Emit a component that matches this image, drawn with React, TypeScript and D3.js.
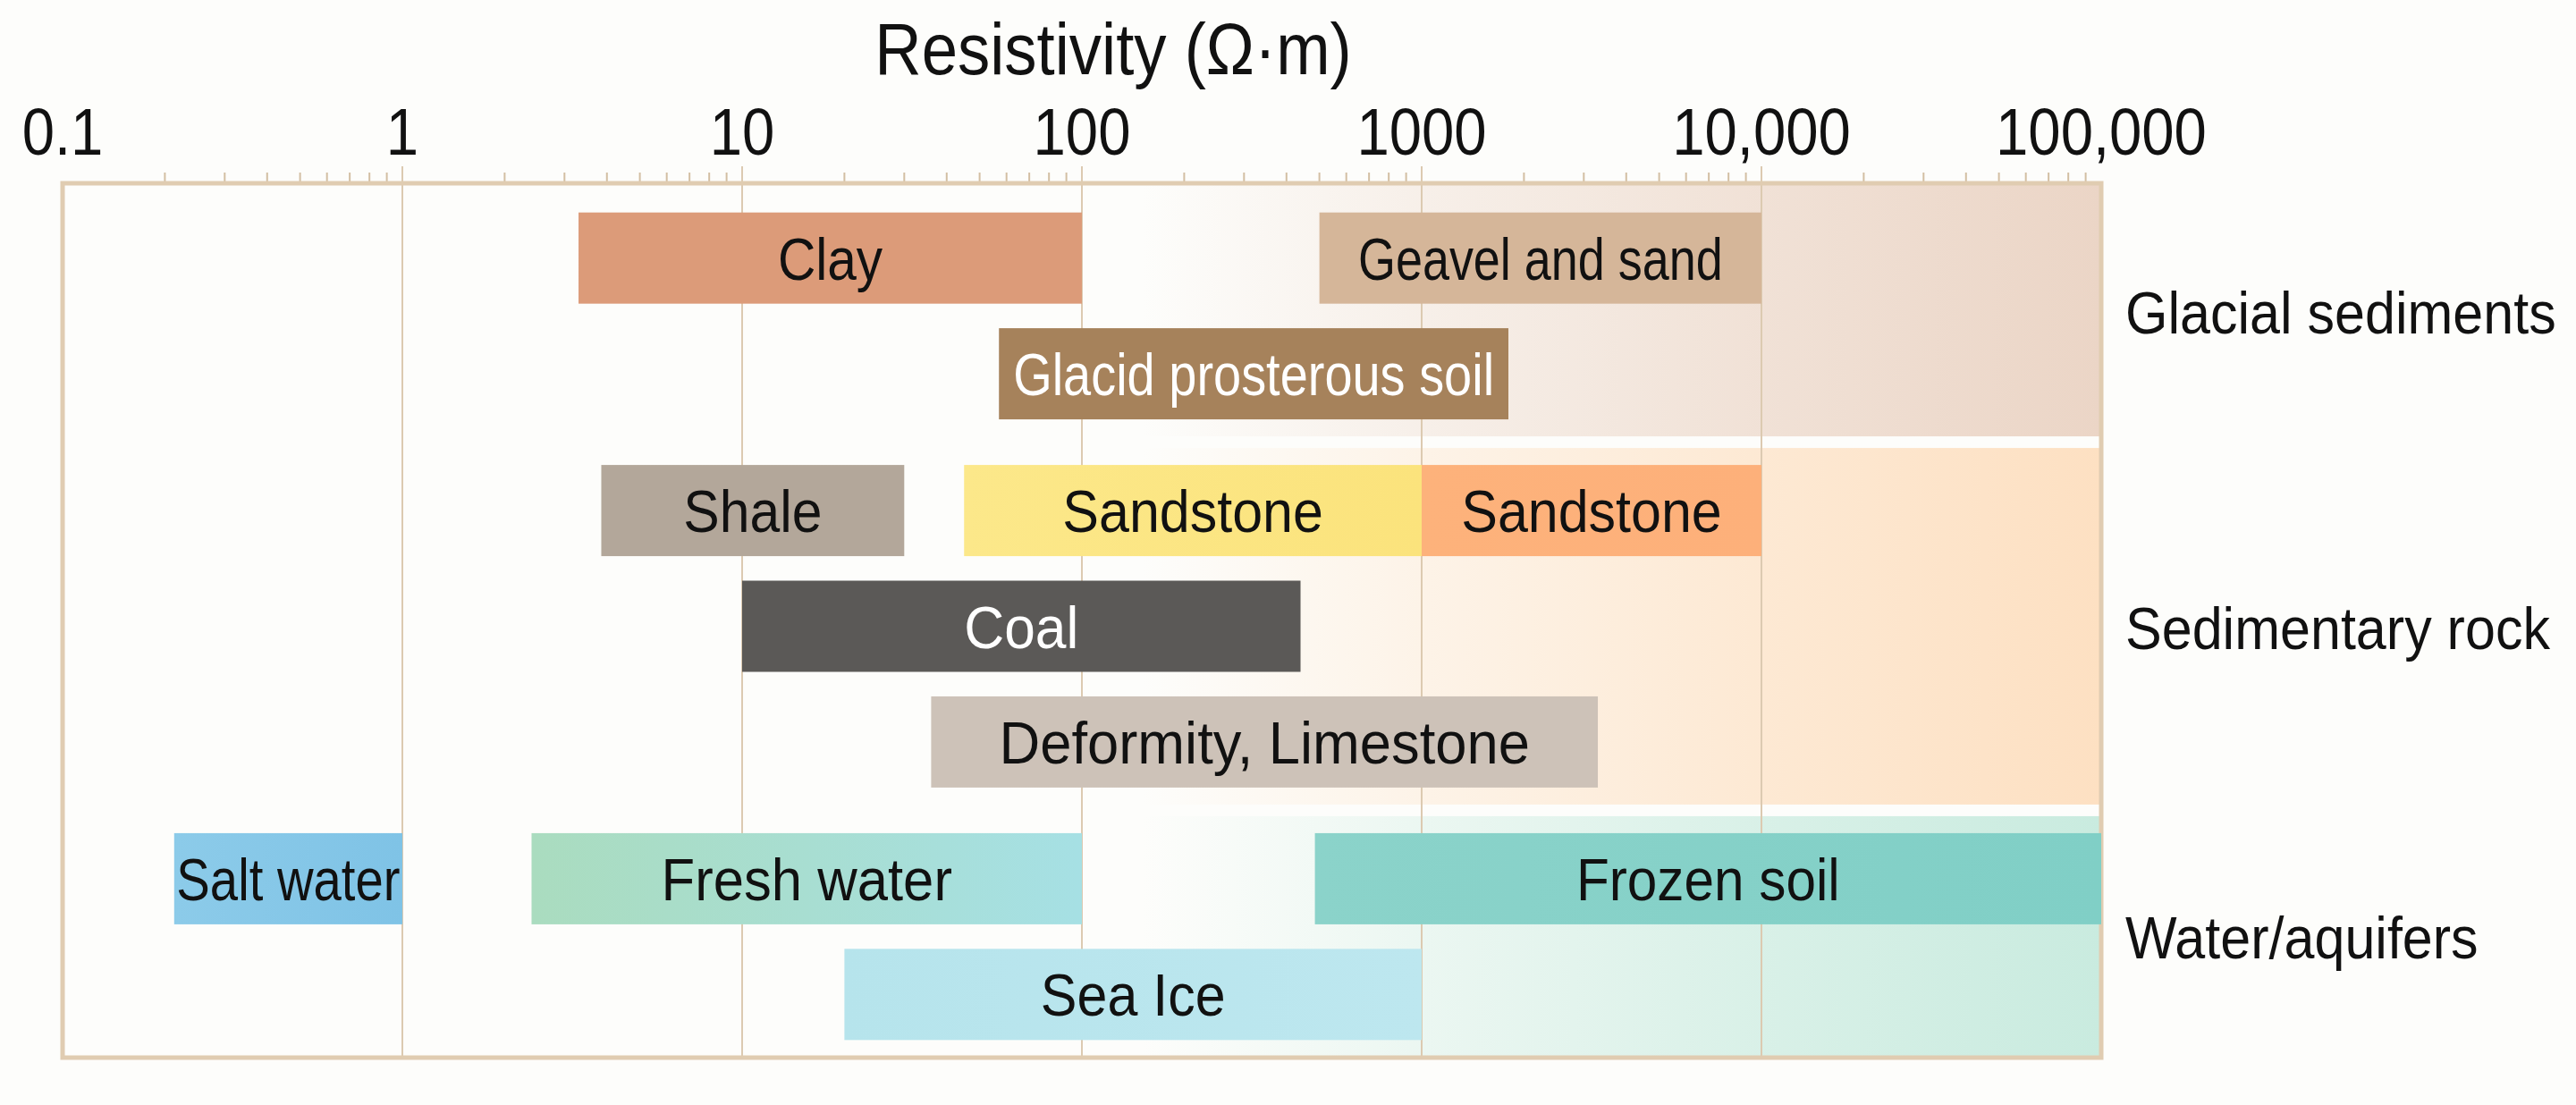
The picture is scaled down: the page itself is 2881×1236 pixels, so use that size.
import React from "react";
import * as d3 from "d3";

// ---------- data ----------
const materials = [
  "Clay",
  "Geavel and sand",
  "Glacid prosterous soil",
  "Shale",
  "Sandstone",
  "Sandstone",
  "Coal",
  "Deformity, Limestone",
  "Salt water",
  "Fresh water",
  "Frozen soil",
  "Sea Ice",
];
const minValues = [3.3, 500, 57, 3.85, 45, 1000, 10, 36, 0.213, 2.4, 485, 20];
const maxValues = [100, 10000, 1800, 30, 1000, 10000, 440, 3300, 1, 100, 100000, 1000];
const rowIndex = [0, 0, 1, 2, 2, 2, 3, 4, 5, 5, 5, 6];
const groupIndex = [0, 0, 0, 1, 1, 1, 1, 1, 2, 2, 2, 2];

// ---------- styles ----------
const fillStart = [
  "#dc9b79", "#d5b699", "#a6825b", "#b3a79a", "#fce88a", "#fdb27b",
  "#5b5957", "#cdc2b8", "#8ccbe9", "#aadcbf", "#8bd3ca", "#b6e4ec",
];
const fillEnd = [
  "#dc9b79", "#d5b699", "#a6825b", "#b3a79a", "#fbe37c", "#fdb07a",
  "#5b5957", "#cdc2b8", "#7fc3e6", "#a6e0e4", "#80cfc6", "#bde7ef",
];
const textColors = [
  "#111", "#111", "#ffffff", "#111", "#111", "#111",
  "#ffffff", "#111", "#111", "#111", "#111", "#111",
];
// horizontal condensing of each bar label
const labelStretch = [0.875, 0.805, 0.835, 0.905, 0.91, 0.91, 0.93, 0.945, 0.84, 0.92, 0.9, 0.91];

const groups = ["Glacial sediments", "Sedimentary rock", "Water/aquifers"];
const groupFirstRow = [0, 2, 5];
const groupLastRow = [1, 4, 6];
const groupTints = ["#ebd5c6", "#fde0c2", "#c9ebdf"];

const tickValues = [0.1, 1, 10, 100, 1000, 10000, 100000];
const tickLabels = ["0.1", "1", "10", "100", "1000", "10,000", "100,000"];
const axisTitle = "Resistivity (\u03A9\u00B7m)";

// ---------- layout ----------
const W = 2881;
const H = 1236;
const FRAME = { left: 70, right: 2350, top: 205, bottom: 1183 };
const GROUP_GAP = 0.182; // extra slot units between groups
const BAR_H = 0.788; // bar height in slot units
const FONT = "'Liberation Sans', Arial, Helvetica, sans-serif";

const slotOf = (row: number, group: number) => row + group * GROUP_GAP;

function Label(props: {
  x: number;
  y: number;
  size: number;
  stretch: number;
  anchor?: "start" | "middle" | "end";
  fill?: string;
  children: React.ReactNode;
}) {
  return (
    <g transform={`translate(${props.x},${props.y}) scale(${props.stretch},1)`}>
      <text
        x={0}
        y={0}
        textAnchor={props.anchor || "middle"}
        fontFamily={FONT}
        fontSize={props.size}
        fill={props.fill || "#111"}
      >
        {props.children}
      </text>
    </g>
  );
}

export default function App() {
  const x = d3.scaleLog().domain([0.1, 100000]).range([FRAME.left, FRAME.right]);
  const y = d3.scaleLinear().domain([-0.6465, 6.91]).range([FRAME.top, FRAME.bottom]);

  const bars = materials.map((name, i) => {
    const s = slotOf(rowIndex[i], groupIndex[i]);
    return {
      name,
      i,
      x0: x(minValues[i]),
      x1: x(maxValues[i]),
      y0: y(s - BAR_H / 2),
      y1: y(s + BAR_H / 2),
      cy: y(s),
    };
  });

  const bands = groups.map((g, gi) => {
    let top = FRAME.top + 2;
    let bottom = FRAME.bottom - 2;
    if (gi > 0) {
      const mid = (slotOf(groupLastRow[gi - 1], gi - 1) + slotOf(groupFirstRow[gi], gi)) / 2;
      top = y(mid) + 6.5;
    }
    if (gi < groups.length - 1) {
      const mid = (slotOf(groupLastRow[gi], gi) + slotOf(groupFirstRow[gi + 1], gi + 1)) / 2;
      bottom = y(mid) - 6.5;
    }
    return { g, gi, top, bottom };
  });

  const minor: number[] = [];
  for (let e = -1; e < 5; e++) {
    for (let m = 2; m <= 9; m++) minor.push(m * Math.pow(10, e));
  }
  const gridVals = tickValues.slice(1, -1);

  return (
    <svg
      width={W}
      height={H}
      viewBox={`0 0 ${W} ${H}`}
      style={{ position: "absolute", left: 0, top: 0, background: "#fdfdfb" }}
    >
      <defs>
        {bands.map((b) => (
          <linearGradient
            key={b.gi}
            id={`band${b.gi}`}
            gradientUnits="userSpaceOnUse"
            x1={x(150)}
            x2={x(100000)}
            y1={0}
            y2={0}
          >
            <stop offset="0" stopColor={groupTints[b.gi]} stopOpacity={0} />
            <stop offset="0.3" stopColor={groupTints[b.gi]} stopOpacity={0.35} />
            <stop offset="0.65" stopColor={groupTints[b.gi]} stopOpacity={0.7} />
            <stop offset="1" stopColor={groupTints[b.gi]} stopOpacity={1} />
          </linearGradient>
        ))}
        {bars.map((b) => (
          <linearGradient key={b.i} id={`bar${b.i}`} x1="0" x2="1" y1="0" y2="0">
            <stop offset="0" stopColor={fillStart[b.i]} />
            <stop offset="1" stopColor={fillEnd[b.i]} />
          </linearGradient>
        ))}
      </defs>

      {bands.map((b) => (
        <rect
          key={b.gi}
          x={FRAME.left}
          y={b.top}
          width={FRAME.right - FRAME.left}
          height={b.bottom - b.top}
          fill={`url(#band${b.gi})`}
        />
      ))}

      {gridVals.map((v) => (
        <line
          key={v}
          x1={x(v)}
          x2={x(v)}
          y1={FRAME.top - 19}
          y2={FRAME.bottom}
          stroke="#dccab1"
          strokeWidth={2}
        />
      ))}

      {minor.map((v) => (
        <line
          key={v}
          x1={x(v)}
          x2={x(v)}
          y1={FRAME.top - 12}
          y2={FRAME.top}
          stroke="#d3bfa3"
          strokeWidth={2}
        />
      ))}

      <rect
        x={FRAME.left}
        y={FRAME.top}
        width={FRAME.right - FRAME.left}
        height={FRAME.bottom - FRAME.top}
        fill="none"
        stroke="#e0ccb1"
        strokeWidth={5}
      />

      {bars.map((b) => (
        <g key={b.i}>
          <rect x={b.x0} y={b.y0} width={b.x1 - b.x0} height={b.y1 - b.y0} fill={`url(#bar${b.i})`} />
          <Label
            x={(b.x0 + b.x1) / 2}
            y={b.cy + 24}
            size={67}
            stretch={labelStretch[b.i]}
            fill={textColors[b.i]}
          >
            {b.name}
          </Label>
        </g>
      ))}

      {tickValues.map((v, i) => (
        <Label key={v} x={x(v)} y={173} size={75} stretch={0.87}>
          {tickLabels[i]}
        </Label>
      ))}

      <Label x={1245} y={83} size={81} stretch={0.895}>
        {axisTitle}
      </Label>

      {bands.map((b) => (
        <Label
          key={b.gi}
          x={FRAME.right + 27}
          y={(b.top + b.bottom) / 2 + 25}
          size={66}
          stretch={0.925}
          anchor="start"
        >
          {b.g}
        </Label>
      ))}
    </svg>
  );
}
